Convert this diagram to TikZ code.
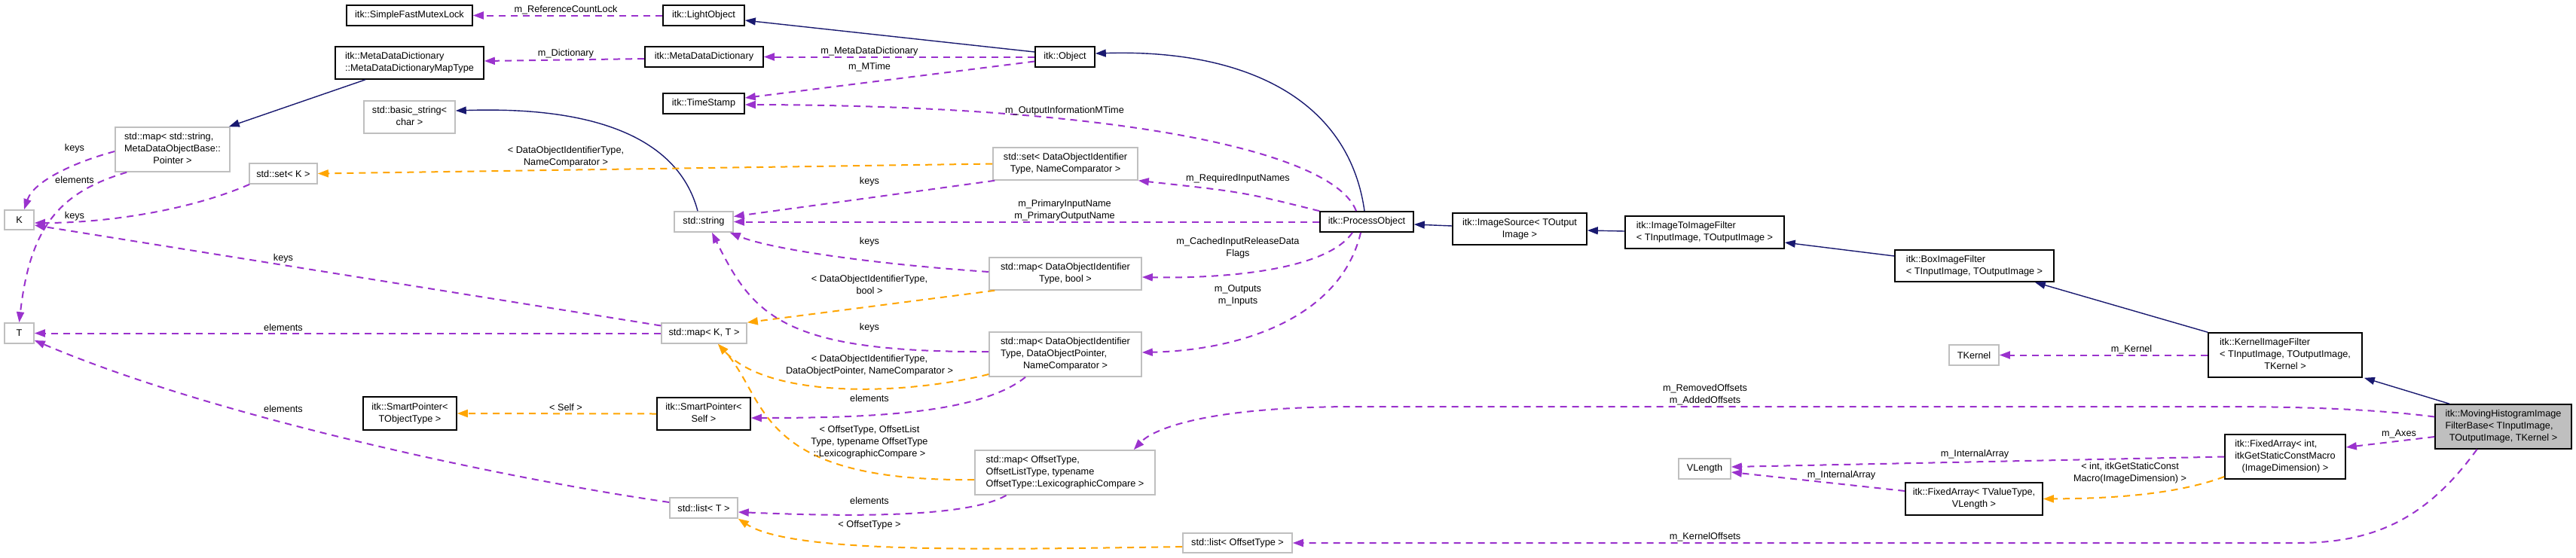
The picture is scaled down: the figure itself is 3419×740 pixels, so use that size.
\documentclass[tikz,border=0pt]{standalone}
\usepackage{fontspec}
\setmainfont{Liberation Sans}
\usetikzlibrary{arrows.meta}
\definecolor{edgep}{HTML}{9A32CD}
\definecolor{edgeo}{HTML}{FFA500}
\definecolor{edgeb}{HTML}{191970}
\definecolor{gborder}{HTML}{BFBFBF}
\newcommand\doxlbl[2]{\begin{tabular}{@{}l@{}}#1\\\multicolumn{1}{@{}c@{}}{#2}\end{tabular}}
\begin{document}
\begin{tikzpicture}[x=1pt,y=-1pt,font=\fontsize{12.7}{16}\selectfont,
  cls/.style={draw=black, line width=1.6pt, fill=white, inner sep=0pt, align=center},
  tpl/.style={draw=gborder, line width=1.6pt, fill=white, inner sep=0pt, align=center},
  wh/.style 2 args={minimum width=#1pt, minimum height=#2pt},
  tip/.style={-{Triangle[length=14pt,width=10pt]}},
  pe/.style={draw=edgep, line width=2pt, dash pattern=on 9pt off 7pt, tip},
  oe/.style={draw=edgeo, line width=2pt, dash pattern=on 9pt off 7pt, tip},
  be/.style={draw=edgeb, line width=1.4pt, tip},
  lbl/.style={inner sep=0pt, align=center}]
\useasboundingbox[fill=white] (0,0) rectangle (3419,740);

% nodes
\node[cls,wh={167}{27}] (mutex) at (543.5,20.5) {itk::SimpleFastMutexLock};
\node[cls,wh={108}{27}] (light) at (934,20.5) {itk::LightObject};
\node[cls,wh={197}{43}] (mapType) at (543.5,83.5) {\doxlbl{itk::MetaDataDictionary}{::MetaDataDictionaryMapType}};
\node[cls,wh={157}{27}] (mdd) at (934.5,75.5) {itk::MetaDataDictionary};
\node[cls,wh={79}{27}] (object) at (1413.5,75.5) {itk::Object};
\node[cls,wh={108}{27}] (timestamp) at (934,137.5) {itk::TimeStamp};
\node[tpl,wh={121}{43}] (basicstr) at (543.5,155.5) {\doxlbl{std::basic\_string<}{char >}};
\node[tpl,wh={152}{59}] (mapstr) at (229,198.5) {\doxlbl{std::map< std::string,\\MetaDataObjectBase::}{Pointer >}};
\node[tpl,wh={90}{27}] (setK) at (376,230.5) {std::set< K >};
\node[tpl,wh={39}{26}] (K) at (25.5,292) {K};
\node[tpl,wh={39}{27}] (T) at (25.5,442.5) {T};
\node[tpl,wh={192}{43}] (setDOIT) at (1414,217.5) {\doxlbl{std::set< DataObjectIdentifier}{Type, NameComparator >}};
\node[tpl,wh={78}{27}] (stdstring) at (934,294.5) {std::string};
\node[tpl,wh={202}{43}] (mapbool) at (1414,363.5) {\doxlbl{std::map< DataObjectIdentifier}{Type, bool >}};
\node[tpl,wh={113}{27}] (mapKT) at (934.5,442.5) {std::map< K, T >};
\node[tpl,wh={202}{59}] (mapDOP) at (1414,470.5) {\doxlbl{std::map< DataObjectIdentifier\\Type, DataObjectPointer,}{NameComparator >}};
\node[cls,wh={124}{44}] (spTObj) at (544,549) {\doxlbl{itk::SmartPointer<}{TObjectType >}};
\node[cls,wh={124}{43}] (spSelf) at (934,549.5) {\doxlbl{itk::SmartPointer<}{Self >}};
\node[tpl,wh={239}{59}] (mapOffset) at (1413.5,627.5) {\doxlbl{std::map< OffsetType,\\OffsetListType, typename}{OffsetType::LexicographicCompare >}};
\node[tpl,wh={90}{27}] (listT) at (934,674.5) {std::list< T >};
\node[tpl,wh={145}{26}] (listOffset) at (1642.5,721) {std::list< OffsetType >};
\node[cls,wh={124}{27}] (process) at (1814,294.5) {itk::ProcessObject};
\node[cls,wh={178}{42}] (imgsrc) at (2017,304) {\doxlbl{itk::ImageSource< TOutput}{Image >}};
\node[cls,wh={211}{43}] (i2i) at (2262.5,308.5) {\doxlbl{itk::ImageToImageFilter}{< TInputImage, TOutputImage >}};
\node[cls,wh={211}{42}] (box) at (2620.5,353) {\doxlbl{itk::BoxImageFilter}{< TInputImage, TOutputImage >}};
\node[cls,wh={204}{59}] (kernelF) at (3033,471.5) {\doxlbl{itk::KernelImageFilter\\< TInputImage, TOutputImage,}{TKernel >}};
\node[tpl,wh={66}{27}] (tkernel) at (2620,471.5) {TKernel};
\node[cls,wh={181}{59},fill=gborder] (moving) at (3322.5,566.5) {\doxlbl{itk::MovingHistogramImage\\FilterBase< TInputImage,}{TOutputImage, TKernel >}};
\node[cls,wh={160}{59}] (faInt) at (3033,606.5) {\doxlbl{itk::FixedArray< int,\\itkGetStaticConstMacro}{(ImageDimension) >}};
\node[cls,wh={182}{43}] (faT) at (2620,662.5) {\doxlbl{itk::FixedArray< TValueType,}{VLength >}};
\node[tpl,wh={69}{27}] (vlength) at (2262.5,622.5) {VLength};

% edges
\draw[pe] (light.west) -- (mutex.east);
\draw[be] ([yshift=6.5pt]object.west) -- ([yshift=-6.5pt]light.east);
\draw[pe] ([yshift=-2.5pt]mdd.west) -- ([yshift=2.5pt]mapType.east);
\draw[pe] (object.west) -- (mdd.east);
\draw[pe] ([yshift=-6pt]object.west) -- ([yshift=7.5pt]timestamp.east);
\draw[pe] ([xshift=-14pt]process.north) .. controls (1770,200) and (1480,140) .. ([yshift=-1.5pt]timestamp.east);
\draw[be] ([xshift=-3pt]process.north) .. controls (1790,130) and (1650,65) .. ([yshift=4.5pt]object.east);
\draw[be] ([xshift=-58.5pt]mapType.south) -- ([xshift=-2pt]mapstr.north east);
\draw[be] ([xshift=-8pt]stdstring.north) .. controls (905,200) and (820,140) .. ([yshift=8.5pt]basicstr.east);
\draw[pe] ([yshift=-2.5pt]mapstr.west) .. controls (100,215) and (45,240) .. ([xshift=6.5pt]K.north);
\draw[pe] ([xshift=16pt]mapstr.south west) .. controls (80,255) and (40,300) .. (T.north);
\draw[pe] ([xshift=1pt]setK.south west) .. controls (250,280) and (140,296) .. ([yshift=-4pt]K.east);
\draw[pe] ([yshift=10pt]mapKT.west) -- ([yshift=-7pt]K.east);
\draw[pe] (mapKT.west) -- (T.east);
\draw[pe] ([yshift=7.5pt]listT.west) .. controls (700,640) and (300,560) .. ([yshift=-9.5pt]T.east);
\draw[oe] (setDOIT.west) -- (setK.east);
\draw[pe] ([xshift=3pt]setDOIT.south west) -- ([yshift=7pt]stdstring.east);
\draw[pe] (process.north west) .. controls (1650,255) .. (setDOIT.south east);
\draw[pe] (process.west) -- (stdstring.east);
\draw[pe] ([yshift=2.5pt]mapbool.west) .. controls (1150,350) and (1020,330) .. ([xshift=-5pt]stdstring.south east);
\draw[pe] ([xshift=-19pt]process.south) .. controls (1760,360) and (1620,370) .. ([yshift=-4.5pt]mapbool.east);
\draw[oe] ([xshift=8pt]mapbool.south west) -- (mapKT.north east);
\draw[pe] ([yshift=3.5pt]mapDOP.west) .. controls (1040,468) and (1000,420) .. ([xshift=11pt]stdstring.south);
\draw[pe] ([xshift=-8pt]process.south) .. controls (1780,420) and (1650,465) .. ([yshift=2.5pt]mapDOP.east);
\draw[oe] ([yshift=-26.5pt]mapDOP.west) .. controls (1200,525) and (1020,530) .. ([xshift=18.5pt]mapKT.south);
\draw[pe] ([xshift=-53pt]mapDOP.south) .. controls (1300,550) and (1150,555) .. ([yshift=-5.5pt]spSelf.east);
\draw[oe] (spSelf.west) -- (spTObj.east);
\draw[oe] ([yshift=-9.5pt]mapOffset.west) .. controls (1000,640) and (1020,530) .. ([xshift=18.5pt]mapKT.south);
\draw[pe] ([xshift=-78pt]mapOffset.south) .. controls (1280,690) and (1100,685) .. ([yshift=-5.5pt]listT.east);
\draw[oe] ([yshift=-5pt]listOffset.west) .. controls (1300,730) and (1050,735) .. (listT.south east);
\draw[pe] ([yshift=13pt]moving.west) .. controls (3150,543) and (3050,540) .. (2950,540) -- (1800,540) .. controls (1600,540) and (1530,570) .. ([xshift=-29pt]mapOffset.north east);
\draw[pe] ([xshift=-35pt]moving.south) .. controls (3220,690) and (3150,721) .. (3049,721) -- (listOffset.east);
\draw[pe] ([yshift=-13.5pt]moving.west) -- ([yshift=12.5pt]faInt.east);
\draw[pe] (faInt.west) -- ([yshift=2.5pt]vlength.east);
\draw[pe] ([yshift=10.5pt]faT.west) -- ([yshift=-4.5pt]vlength.east);
\draw[oe] ([yshift=-26.5pt]faInt.west) .. controls (2880,660) and (2780,662) .. (faT.east);
\draw[be] ([xshift=-71.5pt]moving.north) -- ([xshift=2pt]kernelF.south east);
\draw[be] (kernelF.north west) -- ([xshift=-26pt]box.south east);
\draw[be] ([yshift=13pt]box.west) -- ([yshift=-13.5pt]i2i.east);
\draw[be] ([yshift=1.5pt]i2i.west) -- ([yshift=-2pt]imgsrc.east);
\draw[be] ([yshift=4pt]imgsrc.west) -- ([yshift=-3.5pt]process.east);
\draw[pe] (kernelF.west) -- (tkernel.east);

% labels
\node[lbl] (l1) at (751,13) {m\_ReferenceCountLock};
\node[lbl] (l2) at (751,71) {m\_Dictionary};
\node[lbl] (l3) at (1154,68) {m\_MetaDataDictionary};
\node[lbl] (l4) at (1154,89) {m\_MTime};
\node[lbl] (l5) at (1413,147) {m\_OutputInformationMTime};
\node[lbl] (l6) at (99,197) {keys};
\node[lbl] (l7) at (99,239) {elements};
\node[lbl] (l8) at (99,287) {keys};
\node[lbl] (l9) at (376,343) {keys};
\node[lbl] (l10) at (376,435) {elements};
\node[lbl] (l11) at (376,543) {elements};
\node[lbl] (l12) at (751,208) {< DataObjectIdentifierType,\\NameComparator >};
\node[lbl] (l13) at (1154,241) {keys};
\node[lbl] (l14) at (1643,237) {m\_RequiredInputNames};
\node[lbl] (l15) at (1413,279) {m\_PrimaryInputName\\m\_PrimaryOutputName};
\node[lbl] (l16) at (1154,321) {keys};
\node[lbl] (l17) at (1643,329) {m\_CachedInputReleaseData\\Flags};
\node[lbl] (l18) at (1154,378) {< DataObjectIdentifierType,\\bool >};
\node[lbl] (l19) at (1154,435) {keys};
\node[lbl] (l20) at (1643,392) {m\_Outputs\\m\_Inputs};
\node[lbl] (l21) at (1154,485) {< DataObjectIdentifierType,\\DataObjectPointer, NameComparator >};
\node[lbl] (l22) at (1154,529) {elements};
\node[lbl] (l23) at (751,541) {< Self >};
\node[lbl] (l24) at (1154,587) {< OffsetType, OffsetList\\Type, typename OffsetType\\::LexicographicCompare >};
\node[lbl] (l25) at (1154,665) {elements};
\node[lbl] (l26) at (1154,697) {< OffsetType >};
\node[lbl] (l27) at (2263,524) {m\_RemovedOffsets\\m\_AddedOffsets};
\node[lbl] (l28) at (2263,713) {m\_KernelOffsets};
\node[lbl] (l29) at (3184,576) {m\_Axes};
\node[lbl] (l30) at (2621,603) {m\_InternalArray};
\node[lbl] (l31) at (2444,631) {m\_InternalArray};
\node[lbl] (l32) at (2827,628) {< int, itkGetStaticConst\\Macro(ImageDimension) >};
\node[lbl] (l33) at (2829,464) {m\_Kernel};
\end{tikzpicture}
\end{document}
